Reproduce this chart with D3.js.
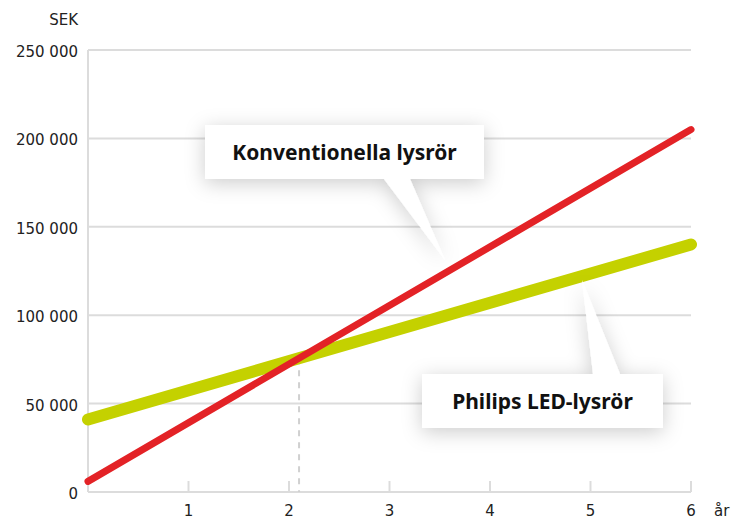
<!DOCTYPE html>
<html>
<head>
<meta charset="utf-8">
<script src="https://cdn.jsdelivr.net/npm/d3@7"></script>
<style>
  body { margin: 0; background: #fff; }
  text { font-family: "DejaVu Sans", sans-serif; }
  text.label { font-family: "Noto Sans", sans-serif; }
</style>
</head>
<body>
<script>
let w = 732;
let h = 519;

// data
const years = [0, 6];
const conventional = [6000, 205000];
const led = [41000, 140000];
const yTicks = [0, 50000, 100000, 150000, 200000, 250000];
const xTicks = [1, 2, 3, 4, 5, 6];
const breakEven = 2.1;

const x = d3.scaleLinear([0, 6], [88, 691]);
const y = d3.scaleLinear([0, 250000], [492, 50]);

let svg = d3.select("body")
            .append("svg")
            .attr("width", w)
            .attr("height", h);

let defs = svg.append("defs");
let filter = defs.append("filter")
                 .attr("id", "shadow")
                 .attr("x", "-30%").attr("y", "-60%")
                 .attr("width", "160%").attr("height", "220%");
filter.append("feDropShadow")
      .attr("dx", 0).attr("dy", 4)
      .attr("stdDeviation", 10)
      .attr("flood-color", "#000")
      .attr("flood-opacity", 0.2);

const fmt = d => d === 0 ? "0" : d3.format(",")(d).replace(",", " ");

// grid
svg.append("g")
   .selectAll("line")
   .data(yTicks)
   .enter()
   .append("line")
   .attr("x1", x(0))
   .attr("x2", x(6))
   .attr("y1", d => y(d))
   .attr("y2", d => y(d))
   .attr("stroke", "#dcdcdc")
   .attr("stroke-width", 2);

svg.append("line")
   .attr("x1", x(0)).attr("x2", x(0))
   .attr("y1", y(250000)).attr("y2", y(0))
   .attr("stroke", "#dcdcdc")
   .attr("stroke-width", 2);

// x ticks
svg.append("g")
   .selectAll("line")
   .data(xTicks)
   .enter()
   .append("line")
   .attr("x1", d => x(d)).attr("x2", d => x(d))
   .attr("y1", y(0)).attr("y2", y(0) - 11)
   .attr("stroke", "#dcdcdc")
   .attr("stroke-width", 2);

// break-even dashed line
svg.append("line")
   .attr("x1", x(breakEven)).attr("x2", x(breakEven))
   .attr("y1", y(6000 + (205000 - 6000) / 6 * breakEven))
   .attr("y2", y(0))
   .attr("stroke", "#d0d0d0")
   .attr("stroke-width", 2)
   .attr("stroke-dasharray", "6,6");

// axis labels
svg.append("g")
   .selectAll("text")
   .data(yTicks)
   .enter()
   .append("text")
   .attr("x", 78)
   .attr("y", d => y(d) + 7)
   .attr("text-anchor", "end")
   .attr("font-size", 15)
   .attr("fill", "#222")
   .text(fmt);

svg.append("text")
   .attr("x", 78).attr("y", 25)
   .attr("text-anchor", "end")
   .attr("font-size", 15)
   .attr("fill", "#222")
   .text("SEK");

svg.append("g")
   .selectAll("text")
   .data(xTicks)
   .enter()
   .append("text")
   .attr("x", d => x(d))
   .attr("y", 516)
   .attr("text-anchor", "middle")
   .attr("font-size", 15)
   .attr("fill", "#222")
   .text(d => d);

svg.append("text")
   .attr("x", 714).attr("y", 516)
   .attr("font-size", 15)
   .attr("fill", "#222")
   .text("år");

// lines
const line = d3.line().x(d => x(d[0])).y(d => y(d[1]));

svg.append("path")
   .attr("d", line(d3.zip(years, led)))
   .attr("fill", "none")
   .attr("stroke", "#c4d100")
   .attr("stroke-width", 12)
   .attr("stroke-linecap", "round");

svg.append("path")
   .attr("d", line(d3.zip(years, conventional)))
   .attr("fill", "none")
   .attr("stroke", "#e32226")
   .attr("stroke-width", 7)
   .attr("stroke-linecap", "round");

// callouts
const callout = (box, tip, label) => {
    let [x0, y0, x1, y1, b0, b1, pointerTop] = box;
    let pts;
    if (pointerTop) {
        pts = [[x0, y0], [b0, y0], tip, [b1, y0], [x1, y0], [x1, y1], [x0, y1]];
    } else {
        pts = [[x0, y0], [x1, y0], [x1, y1], [b1, y1], tip, [b0, y1], [x0, y1]];
    }
    svg.append("path")
       .attr("d", "M" + pts.join("L") + "Z")
       .attr("fill", "#fff")
       .attr("filter", "url(#shadow)");
    svg.append("text")
       .attr("class", "label")
       .attr("x", (x0 + x1) / 2)
       .attr("y", (y0 + y1) / 2 + 8)
       .attr("text-anchor", "middle")
       .attr("font-size", 21)
       .attr("font-weight", "bold")
       .attr("fill", "#111")
       .text(label);
};

callout([205, 125, 484, 179, 384, 410, false], [445, 260], "Konventionella lysrör");
callout([422, 374, 663, 428, 593, 620, true], [582, 280], "Philips LED-lysrör");
</script>
</body>
</html>
